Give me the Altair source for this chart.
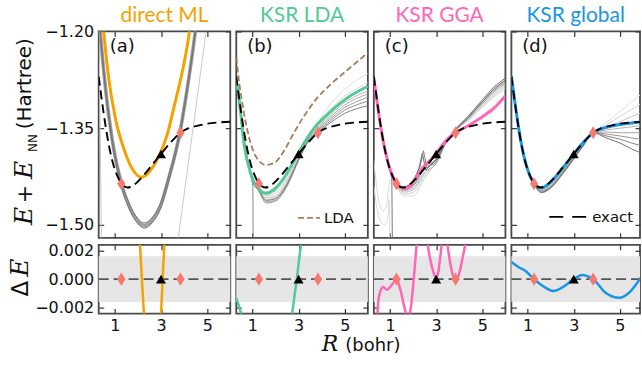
import altair as alt
import pandas as pd

FONT = "DejaVu Sans"
SERIF = "DejaVu Serif"
TITLE_FONT = "Lato"

X_DOMAIN = [0.3, 6.0]
X_DOMAIN_D = [0.3, 5.87]
Y_DOMAIN_TOP = [-1.52, -1.20]
Y_DOMAIN_BOT = [-0.0024, 0.0024]
X_TICKS = [1, 3, 5]
Y_TICKS_TOP = [-1.50, -1.35, -1.20]
Y_TICKS_BOT = [-0.002, 0.0, 0.002]
BAND = [-0.0016, 0.0016]

PANEL_TITLES = ["direct ML", "KSR LDA", "KSR GGA", "KSR global"]
PANEL_LABELS = ["(a)", "(b)", "(c)", "(d)"]
PANEL_COLORS = ["#F5A200", "#52C996", "#FF66B8", "#1996E3"]
SALMON = "#F47A70"
LDA_COLOR = "#A67C5B"

# exact curve
R_EXACT = [0.3, 0.4, 0.5, 0.6, 0.75, 0.9, 1.05, 1.2, 1.28, 1.4, 1.55, 1.7, 1.9, 2.1, 2.3,
           2.5, 2.75, 3.0, 3.25, 3.5, 3.84, 4.2, 4.6, 5.0, 5.5, 6.0]
E_EXACT = [-1.270, -1.297, -1.323, -1.347, -1.378, -1.402, -1.419, -1.431, -1.436, -1.440,
           -1.442, -1.441, -1.436, -1.429, -1.421, -1.412, -1.401, -1.390, -1.379, -1.369,
           -1.357, -1.350, -1.346, -1.343, -1.341, -1.340]

# training / validation molecules
TRAIN_R = [1.28, 3.84]
TRAIN_E = [-1.436, -1.357]
VAL_R = [3.0]
VAL_E = [-1.390]

# (a) direct ML
R_ML = [0.45, 0.53, 0.74, 1.03, 1.39, 1.75, 2.15, 2.53, 2.89, 3.25, 3.61, 3.97, 4.21, 4.3]
E_ML = [-1.17, -1.205, -1.274, -1.336, -1.382, -1.413, -1.426, -1.416, -1.395, -1.362,
        -1.31, -1.254, -1.205, -1.18]
R_GRAY_A = [0.33, 0.38, 0.6, 0.88, 1.28, 1.61, 1.97, 2.26, 2.61, 2.98, 3.34, 3.81, 4.13, 4.46, 4.52]
GRAY_A_MID = [-1.185, -1.207, -1.29, -1.367, -1.436, -1.47, -1.493, -1.501, -1.493, -1.47,
              -1.427, -1.358, -1.29, -1.207, -1.19]
GRAY_A_LOW = [-1.185, -1.209, -1.294, -1.371, -1.44, -1.474, -1.497, -1.505, -1.497, -1.474,
              -1.431, -1.362, -1.294, -1.21, -1.193]
GRAY_A_HIGH = [-1.185, -1.205, -1.286, -1.363, -1.432, -1.466, -1.489, -1.497, -1.489, -1.466,
               -1.423, -1.354, -1.286, -1.204, -1.187]
R_OUT_A = [0.3, 0.42, 2.2, 3.75, 4.95]
E_OUT_A = [-1.16, -1.53, -2.6, -1.52, -1.20]
R_DE_ML = [1.9, 2.0, 2.09, 2.17, 2.26, 2.4, 2.9, 3.0, 3.07, 3.14, 3.3]
DE_ML = [0.012, 0.007, 0.0024, 0.0, -0.0024, -0.008, -0.006, -0.0024, 0.0, 0.0024, 0.008]

# shared grid for ensemble members
GRID = [0.3, 0.5, 0.75, 1.0, 1.28, 1.6, 2.0, 2.5, 3.0, 3.4, 3.84, 4.4, 5.0, 5.5, 6.0]

# (b) KSR LDA
R_LDA_KSR = [0.3, 0.42, 0.64, 0.93, 1.29, 1.58, 1.94, 2.37, 2.8, 3.24, 3.81, 4.39, 5.11, 6.0]
E_LDA_KSR = [-1.275, -1.303, -1.375, -1.421, -1.445, -1.451, -1.445, -1.427, -1.401, -1.373,
             -1.344, -1.324, -1.303, -1.285]
R_LDA = [0.3, 0.35, 0.57, 0.86, 1.22, 1.58, 1.94, 2.37, 2.8, 3.24, 3.81, 4.39, 4.97, 5.47, 6.0]
E_LDA = [-1.24, -1.257, -1.313, -1.365, -1.398, -1.407, -1.404, -1.385, -1.357, -1.331,
         -1.303, -1.282, -1.264, -1.249, -1.233]
GRAY_B = [
    [-1.275, -1.331, -1.392, -1.426, -1.442, -1.448, -1.442, -1.424, -1.394, -1.366, -1.341, -1.312, -1.289, -1.276, -1.265],
    [-1.275, -1.331, -1.392, -1.427, -1.444, -1.452, -1.447, -1.428, -1.395, -1.367, -1.345, -1.321, -1.300, -1.289, -1.279],
    [-1.275, -1.331, -1.393, -1.428, -1.445, -1.455, -1.451, -1.431, -1.396, -1.368, -1.348, -1.326, -1.306, -1.295, -1.286],
    [-1.275, -1.331, -1.393, -1.429, -1.446, -1.458, -1.455, -1.434, -1.397, -1.369, -1.350, -1.329, -1.310, -1.300, -1.292],
    [-1.275, -1.332, -1.394, -1.430, -1.447, -1.461, -1.458, -1.436, -1.398, -1.370, -1.352, -1.332, -1.314, -1.304, -1.297],
    [-1.275, -1.332, -1.394, -1.431, -1.448, -1.464, -1.461, -1.438, -1.399, -1.371, -1.353, -1.335, -1.318, -1.309, -1.302],
    [-1.275, -1.332, -1.395, -1.432, -1.448, -1.466, -1.463, -1.440, -1.400, -1.372, -1.355, -1.338, -1.322, -1.314, -1.308],
    [-1.275, -1.332, -1.395, -1.431, -1.446, -1.462, -1.459, -1.437, -1.398, -1.371, -1.356, -1.341, -1.327, -1.320, -1.315],
]
SHADES_B = ["#e0e0e0", "#d4d4d4", "#c8c8c8", "#bababa", "#acacac", "#9e9e9e", "#909090", "#828282"]
R_OUT_B = [0.3, 0.5, 0.75, 0.95, 1.02, 1.04]
E_OUT_B = [-1.275, -1.331, -1.393, -1.426, -1.44, -1.60]
R_DE_LDA_L = [0.3, 0.4, 0.51, 0.6]
DE_LDA_L = [-0.0013, -0.0018, -0.0024, -0.0035]
R_DE_LDA_R = [2.6, 2.72, 2.92, 3.1, 3.25]
DE_LDA_R = [-0.0042, -0.0024, 0.0, 0.0024, 0.0045]

# (c) KSR GGA
R_GGA = [0.3, 0.45, 0.67, 0.96, 1.25, 1.53, 1.75, 2.11, 2.47, 2.83, 3.0, 3.19, 3.48, 3.84,
         4.35, 4.93, 5.5, 6.0]
E_GGA = [-1.272, -1.312, -1.363, -1.409, -1.434, -1.4425, -1.443, -1.427, -1.409, -1.3967,
         -1.3899, -1.3798, -1.3673, -1.357, -1.347, -1.334, -1.319, -1.30]
GRAY_C = [
    [-1.272, -1.323, -1.379, -1.415, -1.440, -1.455, -1.455, -1.428, -1.400, -1.370, -1.352, -1.338, -1.318, -1.302, -1.288],
    [-1.272, -1.323, -1.379, -1.415, -1.440, -1.452, -1.450, -1.425, -1.402, -1.372, -1.353, -1.337, -1.316, -1.300, -1.285],
    [-1.272, -1.323, -1.378, -1.414, -1.439, -1.449, -1.446, -1.421, -1.404, -1.374, -1.354, -1.336, -1.314, -1.297, -1.282],
    [-1.272, -1.323, -1.378, -1.414, -1.438, -1.447, -1.443, -1.418, -1.405, -1.375, -1.354, -1.335, -1.312, -1.294, -1.280],
    [-1.272, -1.323, -1.378, -1.413, -1.437, -1.445, -1.440, -1.412, -1.403, -1.373, -1.353, -1.334, -1.310, -1.292, -1.278],
    [-1.272, -1.323, -1.378, -1.413, -1.437, -1.444, -1.438, -1.409, -1.400, -1.372, -1.352, -1.333, -1.309, -1.290, -1.276],
]
SHADES_C = ["#dddddd", "#d0d0d0", "#c2c2c2", "#b0b0b0", "#9a9a9a", "#888888"]
R_SPIKE_C1 = [0.3, 0.5, 0.75, 1.0, 1.28, 1.6, 2.0, 2.3, 2.45, 2.6, 3.0, 3.4, 3.84, 4.4, 5.0, 5.5, 6.0]
E_SPIKE_C1 = [-1.272, -1.323, -1.378, -1.413, -1.436, -1.443, -1.433, -1.41, -1.385, -1.412,
              -1.398, -1.372, -1.352, -1.333, -1.309, -1.289, -1.275]
R_SPIKE_C2 = [0.3, 0.5, 0.75, 1.0, 1.28, 1.6, 2.0, 2.25, 2.4, 2.55, 3.0, 3.4, 3.84, 4.4, 5.0, 5.5, 6.0]
E_SPIKE_C2 = [-1.272, -1.323, -1.378, -1.413, -1.436, -1.444, -1.434, -1.413, -1.389, -1.415,
              -1.399, -1.373, -1.351, -1.331, -1.306, -1.286, -1.272]
R_OUT_C1 = [0.3, 0.5, 0.7, 0.85, 0.95, 1.0, 1.1, 1.28]
E_OUT_C1 = [-1.40, -1.46, -1.478, -1.47, -1.44, -1.43, -1.432, -1.437]
R_OUT_C2 = [0.3, 0.5, 0.75, 0.9, 0.98, 1.0]
E_OUT_C2 = [-1.44, -1.485, -1.50, -1.49, -1.46, -1.60]
R_OUT_C3 = [0.3, 0.5, 0.75, 1.0, 1.08, 1.12]
E_OUT_C3 = [-1.272, -1.323, -1.378, -1.413, -1.43, -1.60]
R_DE_GGA = [0.35, 0.45, 0.49, 0.59, 0.71, 0.86, 1.0, 1.17, 1.28, 1.46, 1.6, 1.75, 1.87, 1.97,
            2.07, 2.16, 2.4, 2.62, 2.73, 2.88, 2.98, 3.08, 3.16, 3.25, 3.36, 3.47, 3.59, 3.7,
            3.84, 3.97, 4.12, 4.27, 4.5]
DE_GGA = [-0.005, -0.0026, -0.0016, -0.0008, -0.00055, -0.00073, -0.00055, -0.0002, 0.0,
          -0.0008, -0.0018, -0.0026, -0.0023, -0.001, 0.0008, 0.0025, 0.0045, 0.0025, 0.0015,
          0.0005, 0.0001, 0.0004, 0.0013, 0.0025, 0.0031, 0.0025, 0.0013, 0.0004, 0.0,
          0.00025, 0.0013, 0.0025, 0.005]

# (d) KSR global
E_GLOBAL = [-1.269, -1.296, -1.322, -1.347, -1.378, -1.402, -1.419, -1.431, -1.436, -1.440,
            -1.4425, -1.4415, -1.4368, -1.4298, -1.4216, -1.4126, -1.4014, -1.390, -1.3788,
            -1.3689, -1.357, -1.3509, -1.3472, -1.3443, -1.3419, -1.3399]
GRAY_D = [
    [-1.270, -1.323, -1.378, -1.414, -1.436, -1.443, -1.434, -1.413, -1.391, -1.374, -1.357, -1.341, -1.324, -1.309, -1.295],
    [-1.270, -1.323, -1.378, -1.414, -1.436, -1.444, -1.436, -1.415, -1.392, -1.375, -1.357, -1.345, -1.332, -1.321, -1.310],
    [-1.270, -1.323, -1.378, -1.414, -1.436, -1.445, -1.437, -1.416, -1.393, -1.375, -1.357, -1.349, -1.340, -1.332, -1.325],
    [-1.270, -1.323, -1.378, -1.414, -1.437, -1.446, -1.439, -1.418, -1.394, -1.376, -1.357, -1.353, -1.350, -1.348, -1.345],
    [-1.270, -1.323, -1.378, -1.414, -1.437, -1.447, -1.440, -1.419, -1.395, -1.377, -1.357, -1.356, -1.357, -1.357, -1.357],
    [-1.270, -1.323, -1.378, -1.414, -1.437, -1.448, -1.441, -1.420, -1.396, -1.377, -1.357, -1.359, -1.362, -1.365, -1.368],
    [-1.270, -1.323, -1.378, -1.414, -1.437, -1.449, -1.442, -1.421, -1.397, -1.378, -1.357, -1.362, -1.367, -1.373, -1.378],
    [-1.270, -1.323, -1.378, -1.414, -1.437, -1.450, -1.443, -1.422, -1.398, -1.378, -1.357, -1.365, -1.373, -1.382, -1.390],
]
SHADES_D = ["#e0e0e0", "#d2d2d2", "#c4c4c4", "#b4b4b4", "#a4a4a4", "#949494", "#848484", "#747474"]
R_DE_GLOBAL = [0.3, 0.6, 0.9, 1.28, 1.6, 1.77, 2.13, 2.49, 3.0, 3.36, 3.84, 4.38, 4.96, 5.47, 5.9]
DE_GLOBAL = [0.0012, 0.00085, 0.00059, 0.0, -0.0004, -0.00059, -0.00083, -0.00059, 0.0, 0.0003,
             0.0, -0.00095, -0.0013, -0.00083, 0.0001]

W = [132, 132, 132, 129]
H_TOP = 207
H_BOT = 69
DIAMOND = "M0,-1L0.62,0L0,1L-0.62,0Z"


def scale(dom):
    return alt.Scale(domain=dom, nice=False, zero=False)


def line(R, E, dx, dy, color, width, dash=None, interp="monotone", opacity=1.0):
    df = pd.DataFrame({"R": R, "E": E})
    kw = dict(color=color, strokeWidth=width, interpolate=interp, clip=True, opacity=opacity)
    if dash:
        kw["strokeDash"] = dash
    return alt.Chart(df).mark_line(**kw).encode(
        x=alt.X("R:Q", scale=scale(dx), axis=None),
        y=alt.Y("E:Q", scale=scale(dy), axis=None),
    )


def markers(R, E, dx, dy, shape, color, size):
    df = pd.DataFrame({"R": R, "E": E})
    return alt.Chart(df).mark_point(shape=shape, filled=True, size=size, color=color,
                                    opacity=1, strokeWidth=0).encode(
        x=alt.X("R:Q", scale=scale(dx), axis=None),
        y=alt.Y("E:Q", scale=scale(dy), axis=None),
    )


def axes(dx, dy, yvals, yfmt, xlabels, ylabels):
    df = pd.DataFrame({"R": [dx[0]], "E": [dy[0]]})
    common = dict(tickSize=5, offset=-5, domain=False, grid=False, title=None,
                  tickColor="#333333", tickWidth=1.2, labelFont=FONT, labelFontSize=16,
                  labelColor="#111111")
    a = alt.Chart(df).mark_point(opacity=0).encode(
        x=alt.X("R:Q", scale=scale(dx),
                axis=alt.Axis(values=X_TICKS, labels=xlabels, labelPadding=4, orient="bottom", **common)),
        y=alt.Y("E:Q", scale=scale(dy),
                axis=alt.Axis(values=yvals, format=yfmt, labels=ylabels, labelPadding=5,
                              orient="left", **common)),
    )
    b = alt.Chart(df).mark_point(opacity=0).encode(
        x=alt.X("R:Q", scale=scale(dx),
                axis=alt.Axis(values=X_TICKS, labels=False, orient="top", **common)),
        y=alt.Y("E:Q", scale=scale(dy),
                axis=alt.Axis(values=yvals, labels=False, orient="right", **common)),
    )
    return [a, b]


def text(t, x, y, size, font=FONT, color="#111111", align="left", baseline="alphabetic",
         angle=0, style="normal"):
    df = pd.DataFrame({"t": [t]})
    return alt.Chart(df).mark_text(align=align, baseline=baseline, font=font, fontSize=size,
                                   color=color, angle=angle, fontStyle=style).encode(
        text="t:N", x=alt.value(x), y=alt.value(y))


def hrule(x1, x2, y, color, width, dash):
    df = pd.DataFrame({"v": [0]})
    return alt.Chart(df).mark_rule(color=color, strokeWidth=width, strokeDash=dash).encode(
        x=alt.value(x1), x2=alt.value(x2), y=alt.value(y))


def dx_of(i):
    return X_DOMAIN_D if i == 3 else X_DOMAIN


def top_panel(i, layers):
    dx = dx_of(i)
    w = W[i]
    base = list(layers)
    base.append(line(R_EXACT, E_EXACT, dx, Y_DOMAIN_TOP, "black", 1.9, dash=[9, 5]))
    base.append(markers(TRAIN_R, TRAIN_E, dx, Y_DOMAIN_TOP, DIAMOND, SALMON, 170))
    base.append(markers(VAL_R, VAL_E, dx, Y_DOMAIN_TOP, "triangle-up", "black", 100))
    base += axes(dx, Y_DOMAIN_TOP, Y_TICKS_TOP, ".2f", False, i == 0)
    base.append(text(PANEL_TITLES[i], w / 2, -9, 21, font=TITLE_FONT, color=PANEL_COLORS[i],
                     align="center"))
    base.append(text(PANEL_LABELS[i], 11, 21, 18))
    return base


# ---- panel (a) top ----
dA = dx_of(0)
la = [
    line(R_OUT_A, E_OUT_A, dA, Y_DOMAIN_TOP, "#c8c8c8", 1, interp="linear"),
    line(R_GRAY_A, GRAY_A_MID, dA, Y_DOMAIN_TOP, "#a0a0a0", 3.6),
    line(R_GRAY_A, GRAY_A_LOW, dA, Y_DOMAIN_TOP, "#747474", 1),
    line(R_GRAY_A, GRAY_A_HIGH, dA, Y_DOMAIN_TOP, "#747474", 1),
    line(R_ML, E_ML, dA, Y_DOMAIN_TOP, PANEL_COLORS[0], 3),
]
la = top_panel(0, la)
# y title pieces (rotated, read bottom to top)
la.append(text("E", -67, 185, 25, font=SERIF, align="center", angle=270, style="italic"))
la.append(text("+", -67, 163, 22, align="center", angle=270))
la.append(text("E", -67, 139, 25, font=SERIF, align="center", angle=270, style="italic"))
la.append(text("NN", -62, 112, 12, align="center", angle=270))
la.append(text("(Hartree)", -68, 98, 20, align="left", angle=270))
# layout anchor (top-left corner of the figure)
la.append(alt.Chart(pd.DataFrame({"v": [0]})).mark_rule(strokeOpacity=0, strokeWidth=0.01).encode(
    x=alt.value(-98), x2=alt.value(-97), y=alt.value(-30), y2=alt.value(-29)))

# ---- panel (b) top ----
dB = dx_of(1)
lb = [line(GRID, g, dB, Y_DOMAIN_TOP, s, 1) for g, s in zip(GRAY_B, SHADES_B)]
lb.append(line(R_OUT_B, E_OUT_B, dB, Y_DOMAIN_TOP, "#888888", 1, interp="linear"))
lb.append(line(R_LDA, E_LDA, dB, Y_DOMAIN_TOP, LDA_COLOR, 1.8, dash=[6, 3]))
lb.append(line(R_LDA_KSR, E_LDA_KSR, dB, Y_DOMAIN_TOP, PANEL_COLORS[1], 3))
lb = top_panel(1, lb)
lb.append(hrule(62, 84, 187, LDA_COLOR, 1.8, [6, 3]))
lb.append(text("LDA", 88, 192, 15))

# ---- panel (c) top ----
dC = dx_of(2)
lc = [line(R_OUT_C1, E_OUT_C1, dC, Y_DOMAIN_TOP, "#d8d8d8", 1),
      line(R_OUT_C2, E_OUT_C2, dC, Y_DOMAIN_TOP, "#d8d8d8", 1)]
lc += [line(GRID, g, dC, Y_DOMAIN_TOP, s, 1) for g, s in zip(GRAY_C, SHADES_C)]
lc.append(line(R_OUT_C3, E_OUT_C3, dC, Y_DOMAIN_TOP, "#777777", 1, interp="linear"))
lc.append(line(R_SPIKE_C1, E_SPIKE_C1, dC, Y_DOMAIN_TOP, "#808080", 1, interp="linear"))
lc.append(line(R_SPIKE_C2, E_SPIKE_C2, dC, Y_DOMAIN_TOP, "#6e6e6e", 1, interp="linear"))
lc.append(line(R_GGA, E_GGA, dC, Y_DOMAIN_TOP, PANEL_COLORS[2], 3))
lc = top_panel(2, lc)

# ---- panel (d) top ----
dD = dx_of(3)
ld = [line(GRID, g, dD, Y_DOMAIN_TOP, s, 1) for g, s in zip(GRAY_D, SHADES_D)]
ld.append(line(R_EXACT, E_GLOBAL, dD, Y_DOMAIN_TOP, PANEL_COLORS[3], 3))
ld = top_panel(3, ld)
ld.append(hrule(38, 75, 186, "black", 1.9, [14, 9]))
ld.append(text("exact", 81, 191, 15))


# ---- bottom panels ----
def bottom_panel(i, layers):
    dx = dx_of(i)
    w = W[i]
    band = alt.Chart(pd.DataFrame({"lo": [BAND[0]], "hi": [BAND[1]]})).mark_rect(
        color="#E6E6E6").encode(
        x=alt.value(0), x2=alt.value(w),
        y=alt.Y("lo:Q", scale=scale(Y_DOMAIN_BOT), axis=None), y2="hi:Q")
    zero = alt.Chart(pd.DataFrame({"z": [0.0]})).mark_rule(
        color="#555555", strokeWidth=1.8, strokeDash=[10, 5]).encode(
        x=alt.value(0), x2=alt.value(w),
        y=alt.Y("z:Q", scale=scale(Y_DOMAIN_BOT), axis=None))
    out = [band, zero] + list(layers)
    out.append(markers(TRAIN_R, [0.0, 0.0], dx, Y_DOMAIN_BOT, DIAMOND, SALMON, 180))
    out.append(markers(VAL_R, [0.0], dx, Y_DOMAIN_BOT, "triangle-up", "black", 100))
    out += axes(dx, Y_DOMAIN_BOT, Y_TICKS_BOT, ".3f", True, i == 0)
    return out


ba = bottom_panel(0, [line(R_DE_ML, DE_ML, dA, Y_DOMAIN_BOT, PANEL_COLORS[0], 2.5, interp="linear")])
ba.append(text("\u0394", -71, 44, 23, align="center", angle=270))
ba.append(text("E", -71, 23, 25, font=SERIF, align="center", angle=270, style="italic"))

bb = bottom_panel(1, [
    line(R_DE_LDA_L, DE_LDA_L, dB, Y_DOMAIN_BOT, PANEL_COLORS[1], 2.5, interp="linear"),
    line(R_DE_LDA_R, DE_LDA_R, dB, Y_DOMAIN_BOT, PANEL_COLORS[1], 2.5, interp="linear"),
])
bb.append(text("R", 94, 107, 22, font=SERIF, align="center", style="italic"))
bb.append(text("(bohr)", 137, 107, 18, align="center"))

bc = bottom_panel(2, [line(R_DE_GGA, DE_GGA, dC, Y_DOMAIN_BOT, PANEL_COLORS[2], 2.5)])
bd = bottom_panel(3, [line(R_DE_GLOBAL, DE_GLOBAL, dD, Y_DOMAIN_BOT, PANEL_COLORS[3], 2.5)])


def panel(layers, w, h):
    return alt.layer(*layers).properties(width=w, height=h).resolve_axis(
        x="independent", y="independent")


charts = [panel(la, W[0], H_TOP), panel(lb, W[1], H_TOP), panel(lc, W[2], H_TOP),
          panel(ld, W[3], H_TOP),
          panel(ba, W[0], H_BOT), panel(bb, W[1], H_BOT), panel(bc, W[2], H_BOT),
          panel(bd, W[3], H_BOT)]

chart = alt.concat(*charts, columns=4, spacing=alt.RowColnumber(row=7, column=6),
                   bounds="flush", align="each").properties(padding=0).configure(
    background="white").configure_view(stroke="#4a4a4a", strokeWidth=1.8)

chart.save("out.html", embed_options={"renderer": "svg", "actions": False})
